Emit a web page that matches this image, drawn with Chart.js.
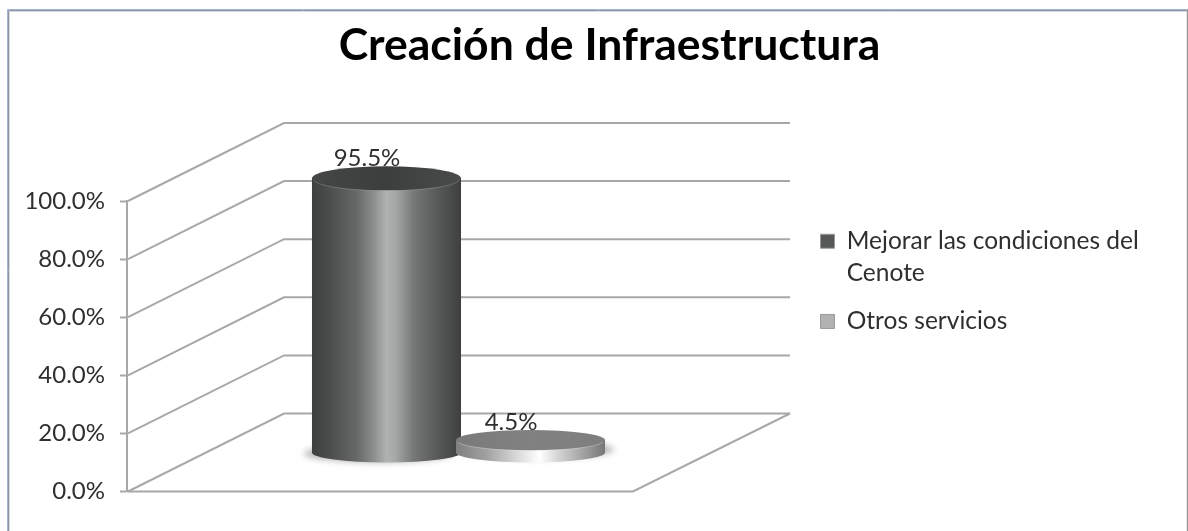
<!DOCTYPE html>
<html lang="es">
<head>
<meta charset="utf-8">
<title>Creación de Infraestructura</title>
<style>html,body{margin:0;padding:0;background:#fff}canvas{display:block}</style>
<script src="https://cdn.jsdelivr.net/npm/chart.js@4"></script>
</head>
<body>
<canvas id="c" width="1188" height="531"></canvas>
<script>
const chartTitle = 'Creación de Infraestructura';
const categories = ['Creación de Infraestructura'];
const seriesNames = [['Mejorar las condiciones del', 'Cenote'], ['Otros servicios']];
const seriesValues = [95.5, 4.5];
const seriesColors = ['#565757', '#b2b2b2'];
const valueTicks = [0, 20, 40, 60, 80, 100];

const FONT = 'Lato, Carlito, sans-serif';
const TEXT = '#2f2f2f';
const DEPTH_X = 157, DEPTH_Y = 78, FLOOR_INSET_Y = 38.5, SHRINK = 0.99;
const RY_BASE = 10, RY_GROW = 2 / 275;
const LINE = '#a8a8a8';

function line(ctx, pts, w, color) {
  ctx.beginPath();
  pts.forEach((p, i) => i ? ctx.lineTo(p[0], p[1]) : ctx.moveTo(p[0], p[1]));
  ctx.lineWidth = w; ctx.strokeStyle = color; ctx.stroke();
}
function hGrad(ctx, x0, x1, stops) {
  const g = ctx.createLinearGradient(x0, 0, x1, 0);
  stops.forEach(s => g.addColorStop(s[0], s[1]));
  return g;
}
function cylinder(ctx, el, idx, midX) {
  const rx = el.width / 2, cx = el.x;
  const base = el.base - FLOOR_INSET_Y;
  const top = base - (el.base - el.y) * SHRINK;
  const ryTop = RY_BASE + (base - top) * RY_GROW;
  const big = idx === 0;
  ctx.save();
  ctx.filter = 'blur(3px)';
  ctx.fillStyle = 'rgba(110,110,110,.5)';
  ctx.beginPath();
  ctx.ellipse(cx + (cx < midX ? -8 : 9), base + (big ? 1 : -3), rx, RY_BASE - 1, 0, 0, 7);
  ctx.fill();
  ctx.restore();
  const side = big
    ? [[0, '#3d3f3f'], [.12, '#4c4d4d'], [.3, '#666767'], [.42, '#8f9090'], [.5, '#b0b1b1'], [.56, '#a6a7a7'], [.68, '#767777'], [.85, '#565757'], [1, '#3e3f3f']]
    : [[0, '#808080'], [.2, '#a0a0a0'], [.4, '#d6d6d6'], [.56, '#ffffff'], [.7, '#d0d0d0'], [.88, '#9a9a9a'], [1, '#777777']];
  ctx.fillStyle = hGrad(ctx, cx - rx, cx + rx, side);
  ctx.beginPath();
  ctx.moveTo(cx - rx, top);
  ctx.lineTo(cx - rx, base);
  ctx.ellipse(cx, base, rx, RY_BASE, 0, Math.PI, 0, true);
  ctx.lineTo(cx + rx, top);
  ctx.closePath();
  ctx.fill();
  const cap = big
    ? [[0, '#454646'], [.5, '#3c3d3d'], [1, '#4a4b4b']]
    : [[0, '#7a7a7a'], [.5, '#818181'], [1, '#7e7e7e']];
  ctx.fillStyle = hGrad(ctx, cx - rx, cx + rx, cap);
  ctx.beginPath();
  ctx.ellipse(cx, top, rx, ryTop, 0, 0, 7);
  ctx.fill();
  ctx.strokeStyle = big ? 'rgba(170,170,170,.35)' : 'rgba(225,225,225,.35)';
  ctx.lineWidth = 1;
  ctx.beginPath();
  ctx.ellipse(cx, top + .5, rx - 1, ryTop, 0, 0.15, Math.PI - 0.15);
  ctx.stroke();
  return top - ryTop;
}

const scene = {
  id: 'scene',
  afterLayout(chart) {
    const t = chart.titleBlock;
    const tw = t.right - t.left;
    t.left = 609.5 - tw / 2; t.right = t.left + tw;
    const l = chart.legend;
    const h = l.bottom - l.top;
    l.left = 804.5; l.right = chart.width; l.width = l.right - l.left;
    l.top = 213; l.bottom = l.top + h;
  },
  beforeDraw(chart) {
    const ctx = chart.ctx, W = chart.width;
    ctx.fillStyle = '#ffffff';
    ctx.fillRect(0, 0, W, chart.height);
    line(ctx, [[7.5, 531], [7.5, 9.5], [W, 9.5]], 1, '#a3b6d4');
    line(ctx, [[8.5, 531], [8.5, 10.5], [W, 10.5]], 1, '#8a94a6');
    line(ctx, [[9.5, 531], [9.5, 11.5], [W, 11.5]], 1, '#dcdcdc');
    line(ctx, [[W - .5, 10], [W - .5, 531]], 1.5, '#9a9a9a');
  },
  beforeDatasetsDraw(chart) {
    const ctx = chart.ctx, y = chart.scales.y, a = chart.chartArea;
    const L = a.left, R = a.right, bx = L + DEPTH_X, fx = R - DEPTH_X;
    valueTicks.forEach(v => {
      const py = y.getPixelForValue(v);
      line(ctx, [[L + 1, py], [bx, py - DEPTH_Y], [R, py - DEPTH_Y]], 2, LINE);
    });
    const by = y.getPixelForValue(0);
    line(ctx, [[L, by], [fx, by], [R, by - DEPTH_Y]], 2, LINE);
    const midX = (L + R) / 2;
    const els = chart.getDatasetMeta(0).data.concat(chart.getDatasetMeta(1).data);
    const tops = els.map((el, i) => cylinder(ctx, el, i, midX));
    ctx.save();
    ctx.font = '400 24px ' + FONT;
    ctx.textAlign = 'center';
    ctx.textBaseline = 'alphabetic';
    ctx.fillStyle = TEXT;
    els.forEach((el, i) => {
      ctx.fillText(seriesValues[i].toFixed(1) + '%', el.x - 19.5, tops[i]);
    });
    ctx.restore();
  },
  beforeDatasetDraw() { return false; }
};

new Chart(document.getElementById('c'), {
  type: 'bar',
  data: {
    labels: categories,
    datasets: seriesNames.map((n, i) => ({
      label: n, data: [seriesValues[i]], backgroundColor: seriesColors[i],
      categoryPercentage: 0.4344, barPercentage: 1.035
    }))
  },
  plugins: [scene],
  options: {
    responsive: false,
    animation: false,
    layout: { padding: { left: 0, top: 0, right: 134.67, bottom: 39.5 } },
    plugins: {
      tooltip: { enabled: false },
      title: {
        display: true, text: chartTitle, color: '#000000',
        font: { family: FONT, size: 44.5, weight: '700', lineHeight: 1.2 },
        padding: { top: 19, bottom: 128.6 }
      },
      legend: {
        display: true, position: 'right', align: 'start',
        labels: {
          boxWidth: 14, boxHeight: 14, padding: 16, color: TEXT,
          font: { family: FONT, size: 24.5, lineHeight: 1.31 },
          generateLabels: () => seriesNames.map((n, i) => ({
            text: n.length > 1 ? n : n[0], fillStyle: seriesColors[i], strokeStyle: '#9a9a9a', lineWidth: 1, datasetIndex: i, fontColor: TEXT
          }))
        }
      }
    },
    scales: {
      x: { display: false },
      y: {
        min: 0, max: 100,
        afterFit: s => { s.width = 127; },
        afterBuildTicks: s => { s.ticks = valueTicks.map(v => ({ value: v })); },
        border: { color: LINE, width: 2 },
        grid: { drawOnChartArea: false, tickLength: 7, color: LINE, tickWidth: 2 },
        ticks: {
          padding: 15, color: TEXT,
          font: { family: FONT, size: 24 },
          callback: v => v.toFixed(1) + '%'
        }
      }
    }
  }
});
</script>
</body>
</html>
